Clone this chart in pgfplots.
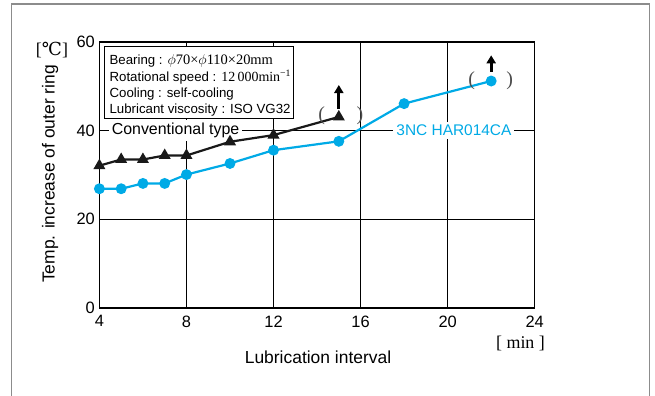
\documentclass[border=0pt]{standalone}
\usepackage{pgfplots}
\pgfplotsset{compat=1.18}
\usepackage{fontspec}
\setmainfont{Liberation Sans}
\newfontfamily\serif{Liberation Serif}
\newfontfamily\dvserif{DejaVu Serif}
\usetikzlibrary{arrows.meta}
\definecolor{hblue}{RGB}{0,170,230}

\begin{document}
\begin{tikzpicture}[x=1bp,y=1bp]
\useasboundingbox (0,0) rectangle (655,395);
% outer frame
\draw[black!45, line width=1.5bp] (11.5,-5) -- (11.5,391) -- (649.5,391) -- (649.5,-5);

\begin{axis}[
    at={(99.4bp,87bp)}, anchor=south west,
    scale only axis, width=435.3bp, height=266bp,
    xmin=4, xmax=24, ymin=0, ymax=60,
    xtick={4,8,...,24}, ytick={0,20,40,60},
    grid=major,
    major grid style={black, line width=1bp},
    axis line style={black, line width=1.3bp},
    major tick length=0pt,
    tick label style={font=\fontsize{16.5}{16.5}\selectfont,
        /pgf/number format/assume math mode=true},
    xticklabel style={yshift=-4bp},
    yticklabel style={xshift=-1bp},
    clip=false,
]
% labels sitting on the 40-line
\node[fill=white, inner sep=3bp, font=\fontsize{16}{16}\selectfont]
    at (axis cs:7.5,40) {Conventional type};
\node[fill=white, inner sep=3bp, text=hblue, font=\fontsize{15.5}{15.5}\selectfont]
    at (axis cs:20.29,40) {3NC HAR014CA};

\addplot[black!90, line width=2.2bp, mark=triangle*, mark size=4.8bp] coordinates {
    (4,32.1) (5,33.5) (6,33.5) (7,34.4) (8,34.4) (10,37.5) (12,39.0) (15,43.1)
};
\addplot[hblue, line width=2.2bp, mark=*, mark size=4.3bp] coordinates {
    (4,26.9) (5,26.9) (6,28.1) (7,28.1) (8,30.1) (10,32.6) (12,35.6)
    (15,37.6) (18,46.1) (22,51.2)
};

% "more than" markers
\draw[black, line width=3bp, -{Triangle[length=8bp, width=9bp]}]
    (axis cs:15,45.0) -- (axis cs:15,50.3);
\draw[black, line width=3bp, -{Triangle[length=8bp, width=9bp]}]
    (axis cs:22,53.3) -- (axis cs:22,57.0);
\node[text=black!70, font=\serif\fontsize{20}{20}\selectfont] at (axis cs:14.21,43.3) {(};
\node[text=black!70, font=\serif\fontsize{20}{20}\selectfont] at (axis cs:15.97,43.3) {)};
\node[text=black!70, font=\serif\fontsize{20}{20}\selectfont] at (axis cs:21.1,51.3) {(};
\node[text=black!70, font=\serif\fontsize{20}{20}\selectfont] at (axis cs:22.85,51.3) {)};
\end{axis}

% condition box
\draw[black, line width=1.2bp, fill=white] (104.4,348.3) rectangle (293.2,276.7);
\begin{scope}[every node/.style={anchor=base west, inner sep=0pt,
        font=\fontsize{13.3}{13.3}\selectfont}]
\node at (109.4,330.3) {Bearing : {\serif\fontsize{14.5}{14.5}\selectfont $\phi$70×$\phi$110×20mm}};
\node at (109.4,313.7) {Rotational speed : {\serif\fontsize{14}{14}\selectfont 12\,000min\textsuperscript{−1}}};
\node at (109.4,298.0) {Cooling : self-cooling};
\node at (109.4,282.0) {Lubricant viscosity : ISO VG32};
\end{scope}

% axis titles and units
\node[font=\fontsize{17.5}{17.5}\selectfont] at (318,37.3) {Lubrication interval};
\node[font=\fontsize{17.5}{17.5}\selectfont, rotate=90] at (50,221) {Temp. increase of outer ring};
\node[font=\serif\fontsize{18}{18}\selectfont] at (52,345) {[{\dvserif ℃}]};
\node[font=\serif\fontsize{18}{18}\selectfont] at (520.5,52) {[ min ]};
\end{tikzpicture}
\end{document}
